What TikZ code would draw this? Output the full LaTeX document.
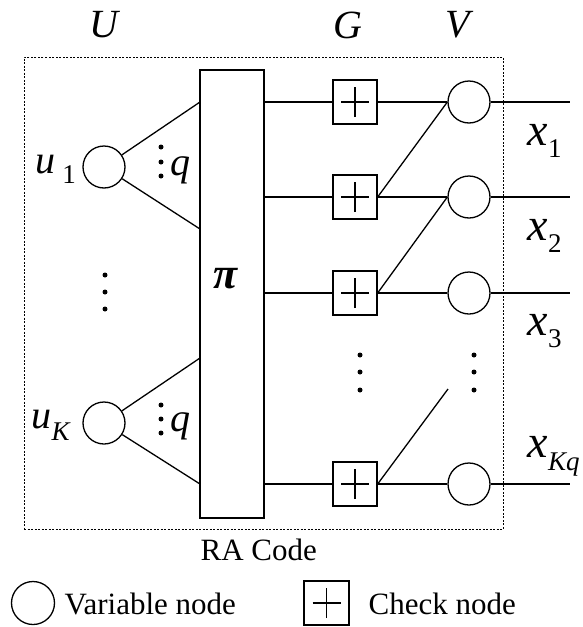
\documentclass[tikz,border=0pt]{standalone}
\usepackage{fontspec}
\setmainfont{Liberation Serif}
\newcommand\biglbl{\fontsize{40}{44}\selectfont\itshape}
\newcommand\sublbl[2]{\raisebox{-#1pt}{\fontsize{27}{30}\selectfont #2}}
\begin{document}
\begin{tikzpicture}[x=1pt,y=-1pt,
  line width=1.3pt,
  varnode/.style={draw,circle,minimum size=42pt,inner sep=0pt},
  chknode/.style={draw,rectangle,minimum size=44pt,inner sep=0pt,
    path picture={\draw[line width=1.2pt]
      ([xshift=-14pt]path picture bounding box.center) -- ([xshift=14pt]path picture bounding box.center)
      ([yshift=-15pt]path picture bounding box.center) -- ([yshift=15pt]path picture bounding box.center);}},
  dotmark/.style={circle,fill,inner sep=0pt,minimum size=5pt},
  txt/.style={font=\fontsize{31}{34}\selectfont,inner sep=0pt,anchor=base west},
  mlbl/.style={font=\biglbl,inner sep=0pt,anchor=base west}]
\useasboundingbox (0,0) rectangle (582,627);

% encoder boundary
\node[draw,dash pattern=on 2pt off 1.5pt,line width=1pt,minimum width=479pt,minimum height=472pt,inner sep=0pt]
  (frame) at (263.5,293) {};

% column headings
\node[font=\biglbl,inner sep=0pt] (hU) at (104,25) {U};
\node[font=\biglbl,inner sep=0pt] (hG) at (348,25) {G};
\node[font=\biglbl,inner sep=0pt] (hV) at (458,25) {V};

% interleaver
\node[draw,minimum width=64pt,minimum height=448pt,inner sep=0pt] (pi) at (232,294) {};
\node[font=\fontsize{44}{48}\selectfont\bfseries\itshape,inner sep=0pt] (pilbl) at (226,279) {π};

% information bits
\node[varnode] (u1) at (104,167) {};
\node[varnode] (uK) at (104,423) {};
\node[mlbl] (u1lbl) at (35,173) {u\,\sublbl{10}{\upshape 1}};
\node[mlbl] (uKlbl) at (31,428) {u\sublbl{12}{K}};

\coordinate (pa1) at (200,102);
\coordinate (pa2) at (200,229);
\coordinate (pb1) at (200,358);
\coordinate (pb2) at (200,484);
\draw (u1) -- (pa1);
\draw (u1) -- (pa2);
\draw (uK) -- (pb1);
\draw (uK) -- (pb2);

% repetition markers
\foreach \yy [count=\i] in {147,162,176} \node[dotmark] (qa\i) at (161,\yy) {};
\foreach \yy [count=\i] in {405,419,433} \node[dotmark] (qb\i) at (161,\yy) {};
\node[mlbl] (qa) at (170,175) {q};
\node[mlbl] (qb) at (170,431) {q};
\foreach \yy [count=\i] in {275,292,309} \node[dotmark] (ud\i) at (105,\yy) {};

% accumulator: check and variable nodes
\foreach \yy [count=\i] in {102,197,293,484} {
  \node[chknode] (c\i) at (355,\yy) {};
  \node[varnode] (v\i) at (469,\yy) {};
  \coordinate (pr\i) at (264,\yy);
  \coordinate (o\i) at (570,\yy);
  \draw (pr\i) -- (c\i);
  \draw (c\i) -- (v\i);
  \draw (v\i) -- (o\i);
}
\coordinate (vgap) at (448,389);
\draw (c2.east) -- (v1.west);
\draw (c3.east) -- (v2.west);
\draw (c4.east) -- (vgap);

\foreach \yy [count=\i] in {355,372,390} {
  \node[dotmark] (gd\i) at (360,\yy) {};
  \node[dotmark] (vd\i) at (474,\yy) {};
}

% coded outputs
\tikzset{xlbl/.style={mlbl,font=\fontsize{46}{50}\selectfont\itshape}}
\node[xlbl] (x1) at (527,145) {x\sublbl{12}{\upshape 1}};
\node[xlbl] (x2) at (527,240) {x\sublbl{12}{\upshape 2}};
\node[xlbl] (x3) at (527,335) {x\sublbl{12}{\upshape 3}};
\node[xlbl] (xKq) at (527,457) {x\sublbl{13}{Kq}};

\node[txt] (ra) at (200,560) {RA Code};

% legend
\node[varnode,minimum size=43pt] (legv) at (33,603) {};
\node[txt] (legvt) at (64,614) {Variable node};
\node[chknode,minimum width=45pt] (legc) at (326.5,603) {};
\node[txt] (legct) at (368,614) {Check node};
\end{tikzpicture}
\end{document}
